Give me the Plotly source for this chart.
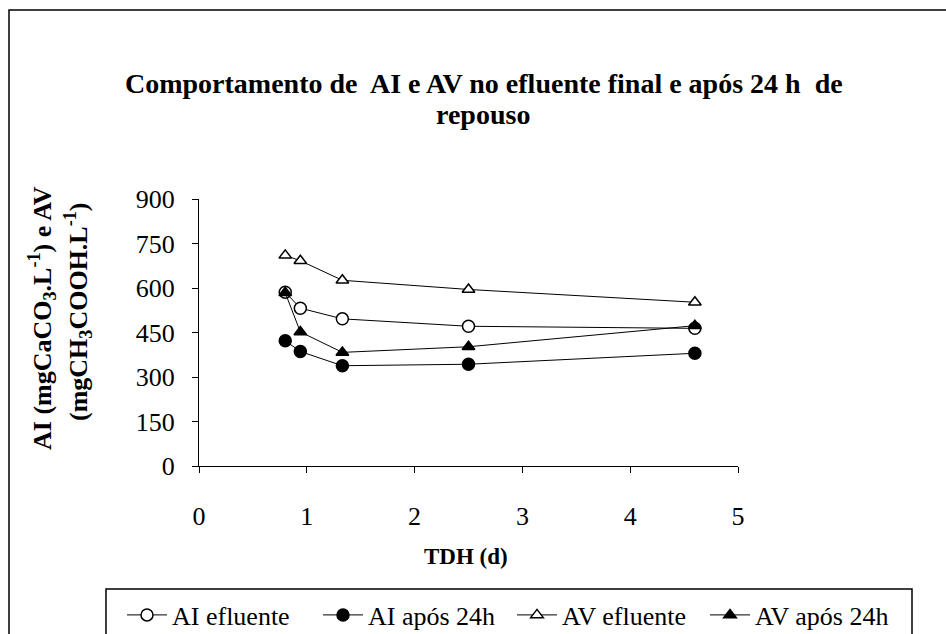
import plotly.graph_objects as go

# ---- data ----
tdh = [0.8, 0.94, 1.33, 2.5, 4.6]
ai_efluente = [586, 532, 496, 471, 464]
ai_apos_24h = [422, 386, 338, 343, 380]
av_efluente = [710, 692, 626, 595, 552]
av_apos_24h = [584, 452, 383, 402, 473]
series_names = ["AI efluente", "AI após 24h", "AV efluente", "AV após 24h"]
x_ticks = [0, 1, 2, 3, 4, 5]
y_ticks = [0, 150, 300, 450, 600, 750, 900]

W, H = 946, 634
L, R, T, B = 199, 208, 199, 168
PW, PH = W - L - R, H - T - B
FONT = "Liberation Serif"


def px(x):
    return (x - L) / PW


def py(y):
    return (H - B - y) / PH


fig = go.Figure()
styles = [
    (ai_efluente, "circle", "white"),
    (ai_apos_24h, "circle", "black"),
    (av_efluente, "triangle-up", "white"),
    (av_apos_24h, "triangle-up", "black"),
]
legend_ids = ["legend", "legend2", "legend3", "legend4"]
legend_text_x = [173, 369, 563, 756]  # pixel start of each legend text
for (vals, sym, fill), name, lid in zip(styles, series_names, legend_ids):
    fig.add_trace(go.Scatter(
        x=tdh, y=vals, name=name, mode="lines+markers", legend=lid,
        line=dict(color="black", width=1),
        marker=dict(symbol=sym, size=12 if sym == "circle" else 11,
                    color=fill, line=dict(color="black", width=1.5)),
    ))

fig.update_layout(
    width=W, height=H,
    margin=dict(l=L, r=R, t=T, b=B, autoexpand=False),
    paper_bgcolor="white", plot_bgcolor="white",
    font=dict(family=FONT, size=26, color="black"),
    showlegend=True,
    xaxis=dict(range=[0, 5], tickvals=x_ticks, showgrid=False, zeroline=False,
               showline=True, linecolor="black", linewidth=1,
               ticks="outside", ticklen=6, tickcolor="black",
               ticklabelstandoff=21, tickfont=dict(family=FONT, size=26)),
    yaxis=dict(range=[0, 900], tickvals=y_ticks, showgrid=False, zeroline=False,
               showline=True, linecolor="black", linewidth=1,
               ticks="outside", ticklen=6, tickcolor="black",
               ticklabelstandoff=12, tickfont=dict(family=FONT, size=26)),
)
for lid, tx in zip(legend_ids, legend_text_x):
    fig.update_layout({lid: dict(
        orientation="h", xref="container", yref="container",
        x=(tx - 51) / W, y=(H - 615) / H, xanchor="left", yanchor="middle",
        font=dict(family=FONT, size=26, color="black"),
        bgcolor="rgba(0,0,0,0)", itemwidth=40,
    )})

ann = []
ann.append(dict(text="Comportamento de\u00a0 AI e AV no efluente final e após 24 h\u00a0 de",
                x=px(484), y=py(83), size=28))
ann.append(dict(text="repouso", x=px(483), y=py(115), size=28))
ann.append(dict(text="TDH (d)", x=px(466), y=py(556), size=23))
ann.append(dict(text="AI (mgCaCO<sub>3</sub>.L<sup>-1</sup>) e AV",
                x=px(42), y=py(318), angle=-90, size=26))
ann.append(dict(text="(mgCH<sub>3</sub>COOH.L<sup>-1</sup>)",
                x=px(78), y=py(312), angle=-90, size=26))
for a in ann:
    fig.add_annotation(text=a["text"], x=a["x"], y=a["y"], xref="paper", yref="paper",
                       xanchor="center", yanchor="middle", showarrow=False,
                       textangle=a.get("angle", 0),
                       font=dict(family=FONT, size=a.get("size", 22), color="black",
                                 weight="bold"))

# outer chart border (left & top visible) and legend box
fig.add_shape(type="rect", xref="paper", yref="paper",
              x0=px(9), y0=py(660), x1=px(960), y1=py(10),
              line=dict(color="black", width=1.5), fillcolor="rgba(0,0,0,0)", layer="below")
fig.add_shape(type="rect", xref="paper", yref="paper",
              x0=px(106), y0=py(650), x1=px(912), y1=py(589),
              line=dict(color="black", width=1.5), fillcolor="rgba(0,0,0,0)", layer="below")

fig.write_html("out.html", config={"displayModeBar": False},
               post_script="document.body.style.margin='0';document.body.style.padding='0';")
